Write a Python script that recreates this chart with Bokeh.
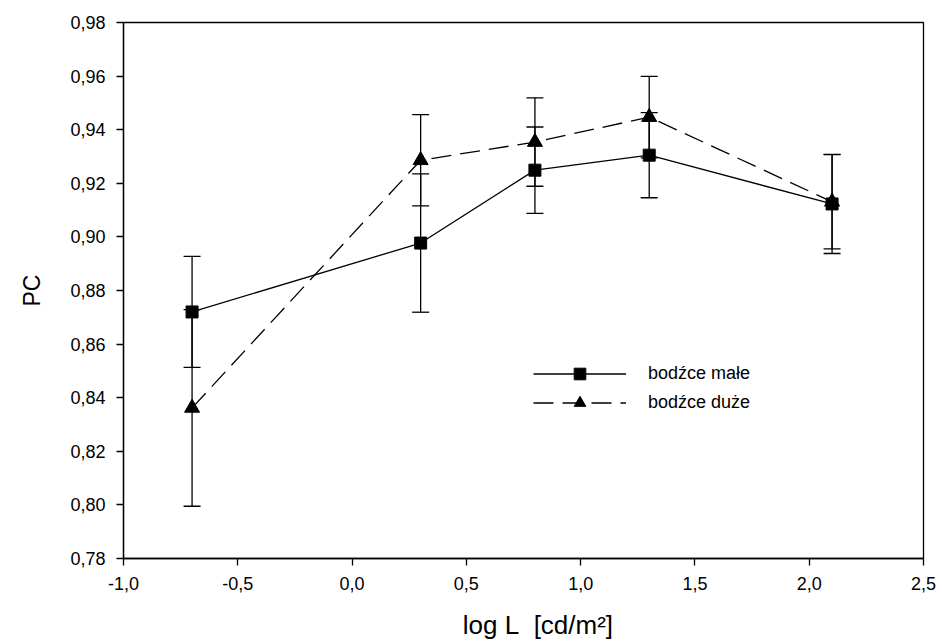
from bokeh.plotting import figure
from bokeh.models import (ColumnDataSource, Whisker, TeeHead, Legend, LegendItem,
                          FixedTicker, CustomJSTickFormatter, Range1d)
from bokeh.embed import file_html
from bokeh.resources import INLINE

# luminance levels (log L, cd/m^2)
log_l = [-0.7, 0.3, 0.8, 1.3, 2.1]

# proportion correct, small stimuli
pc_small = [0.872, 0.8977, 0.9249, 0.9305, 0.9123]
err_small = [0.0207, 0.0258, 0.0161, 0.0159, 0.0185]

# proportion correct, large stimuli
pc_large = [0.8362, 0.9286, 0.9354, 0.9447, 0.9131]
err_large = [0.0367, 0.0170, 0.0165, 0.0152, 0.0176]

x_ticks = [-1.0, -0.5, 0.0, 0.5, 1.0, 1.5, 2.0, 2.5]
y_ticks = [0.78, 0.80, 0.82, 0.84, 0.86, 0.88, 0.90, 0.92, 0.94, 0.96, 0.98]

FONT = "Liberation Sans"

p = figure(width=942, height=642, output_backend="svg", toolbar_location=None,
           x_range=Range1d(-1.0, 2.5), y_range=Range1d(0.78, 0.98),
           min_border_left=123, min_border_right=19,
           min_border_top=22, min_border_bottom=83)
p.grid.visible = False
p.background_fill_color = "white"
p.border_fill_color = "white"
p.outline_line_color = "black"
p.outline_line_width = 1.3

for ax in (p.xaxis[0], p.yaxis[0]):
    ax.axis_line_width = 1.3
    ax.major_tick_line_width = 1.3
    ax.major_tick_in = 0
    ax.major_tick_out = 7
    ax.minor_tick_line_color = None
    ax.major_label_text_font = FONT
    ax.major_label_text_font_size = "18px"
    ax.major_label_text_color = "black"
    ax.axis_label_text_font = FONT
    ax.axis_label_text_font_style = "normal"
    ax.axis_label_text_color = "black"

p.xaxis.ticker = FixedTicker(ticks=x_ticks)
p.yaxis.ticker = FixedTicker(ticks=y_ticks)
p.xaxis.formatter = CustomJSTickFormatter(code="return tick.toFixed(1).replace('.', ',');")
p.yaxis.formatter = CustomJSTickFormatter(code="return tick.toFixed(2).replace('.', ',');")
p.xaxis.major_label_standoff = 11
p.yaxis.major_label_standoff = 11
# leading no-break spaces nudge the centred title slightly to the right
p.xaxis.axis_label = "\u00a0\u00a0\u00a0\u00a0log L\u00a0\u00a0[cd/m²]"
p.xaxis.axis_label_text_font_size = "26px"
p.xaxis.axis_label_standoff = 17
p.yaxis.axis_label = "PC"
p.yaxis.axis_label_text_font_size = "23px"
p.yaxis.axis_label_standoff = 22

src_s = ColumnDataSource(dict(
    x=log_l, y=pc_small,
    lo=[v - e for v, e in zip(pc_small, err_small)],
    hi=[v + e for v, e in zip(pc_small, err_small)]))
src_l = ColumnDataSource(dict(
    x=log_l, y=pc_large,
    lo=[v - e for v, e in zip(pc_large, err_large)],
    hi=[v + e for v, e in zip(pc_large, err_large)]))

for src in (src_l, src_s):
    w = Whisker(source=src, base="x", lower="lo", upper="hi",
                line_color="black", line_width=1.3,
                upper_head=TeeHead(size=17, line_color="black", line_width=1.3),
                lower_head=TeeHead(size=17, line_color="black", line_width=1.3))
    p.add_layout(w)

l_large = p.line("x", "y", source=src_l, line_color="black", line_width=1.3,
                 line_dash="20 9")
m_large = p.scatter("x", "y", source=src_l, marker="triangle", size=15,
                    fill_color="black", line_color="black")

l_small = p.line("x", "y", source=src_s, line_color="black", line_width=1.3)
m_small = p.scatter("x", "y", source=src_s, marker="square", size=12,
                    fill_color="black", line_color="black")

legend = Legend(items=[
    LegendItem(label="bodźce małe", renderers=[l_small, m_small]),
    LegendItem(label="bodźce duże", renderers=[l_large, m_large]),
], location=(410, 141))
legend.background_fill_alpha = 0
legend.border_line_color = None
legend.padding = 0
legend.margin = 0
legend.spacing = 0
legend.glyph_width = 93
legend.glyph_height = 29
legend.label_height = 29
legend.label_standoff = 22
legend.label_text_font = FONT
legend.label_text_font_size = "18px"
legend.label_text_color = "black"
p.add_layout(legend, "center")

open("out.html", "w").write(file_html(p, INLINE))
